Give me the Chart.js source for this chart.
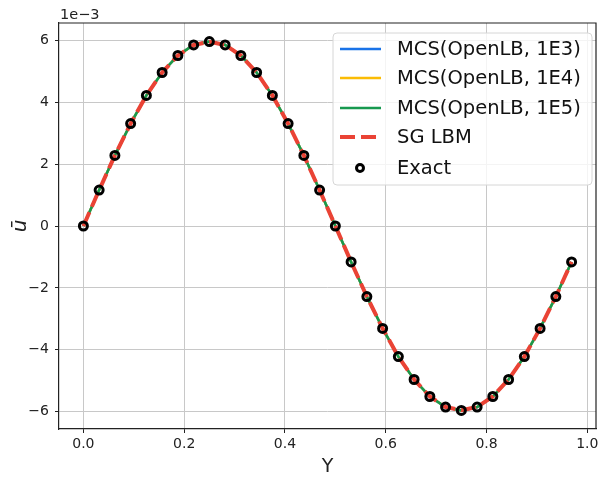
<!DOCTYPE html>
<html>
<head>
<meta charset="utf-8">
<script src="https://cdn.jsdelivr.net/npm/chart.js"></script>
<style>
  html, body { margin: 0; padding: 0; background: #fff; }
  #wrap { width: 603px; height: 478px; }
</style>
</head>
<body>
<div id="wrap"><canvas id="myChart" width="603" height="478"></canvas></div>
<script>
// channel position Y (one period sampled at 32 nodes)
const yPos = [0, 0.03125, 0.0625, 0.09375, 0.125, 0.15625, 0.1875, 0.21875,
              0.25, 0.28125, 0.3125, 0.34375, 0.375, 0.40625, 0.4375, 0.46875,
              0.5, 0.53125, 0.5625, 0.59375, 0.625, 0.65625, 0.6875, 0.71875,
              0.75, 0.78125, 0.8125, 0.84375, 0.875, 0.90625, 0.9375, 0.96875];

// mean velocity, in units of 1e-3
const mcs1e3 = [0, 1.16, 2.28, 3.31, 4.22, 4.96, 5.51, 5.86, 5.97, 5.86, 5.51, 4.96, 4.22, 3.31, 2.28, 1.16,
                0, -1.16, -2.28, -3.31, -4.22, -4.96, -5.51, -5.86, -5.97, -5.86, -5.51, -4.96, -4.22, -3.31, -2.28, -1.16];
const mcs1e4 = [0, 1.16, 2.28, 3.31, 4.22, 4.96, 5.51, 5.85, 5.96, 5.85, 5.51, 4.96, 4.22, 3.31, 2.28, 1.16,
                0, -1.16, -2.28, -3.31, -4.22, -4.96, -5.51, -5.85, -5.96, -5.85, -5.51, -4.96, -4.22, -3.31, -2.28, -1.16];
const mcs1e5 = [0, 1.16, 2.28, 3.31, 4.22, 4.96, 5.51, 5.85, 5.96, 5.85, 5.51, 4.96, 4.22, 3.31, 2.28, 1.16,
                0, -1.16, -2.28, -3.31, -4.22, -4.96, -5.51, -5.85, -5.96, -5.85, -5.51, -4.96, -4.22, -3.31, -2.28, -1.16];
const sgLbm  = [0, 1.16, 2.28, 3.31, 4.22, 4.96, 5.51, 5.85, 5.95, 5.85, 5.51, 4.96, 4.22, 3.31, 2.28, 1.16,
                0, -1.16, -2.28, -3.31, -4.22, -4.96, -5.51, -5.85, -5.95, -5.85, -5.51, -4.96, -4.22, -3.31, -2.28, -1.16];
const exact  = [0, 1.16, 2.28, 3.31, 4.22, 4.96, 5.51, 5.85, 5.96, 5.85, 5.51, 4.96, 4.22, 3.31, 2.28, 1.16,
                0, -1.16, -2.28, -3.31, -4.22, -4.96, -5.51, -5.85, -5.96, -5.85, -5.51, -4.96, -4.22, -3.31, -2.28, -1.16];

const xTicks = [0, 0.2, 0.4, 0.6, 0.8, 1.0];
const yTicks = [-6, -4, -2, 0, 2, 4, 6];

const FONT = "'DejaVu Sans', sans-serif";

function pts(ys) {
    return yPos.map((x, i) => ({ x: x, y: ys[i] }));
}
function fmt(v, digits) {
    const s = v.toFixed(digits);
    return v < 0 ? '\u2212' + s.slice(1) : s;
}

// top/right spines plus the framed legend
const framePlugin = {
    id: 'frame',
    afterDraw(chart) {
        const ctx = chart.ctx;
        const a = chart.chartArea;
        ctx.save();
        ctx.strokeStyle = '#222';
        ctx.lineWidth = 1.2;
        ctx.beginPath();
        ctx.moveTo(a.left, a.top);
        ctx.lineTo(a.right, a.top);
        ctx.lineTo(a.right, a.bottom);
        ctx.stroke();

        // offset text of the y axis
        ctx.fillStyle = '#222';
        ctx.font = '14.5px ' + FONT;
        ctx.textAlign = 'left';
        ctx.textBaseline = 'bottom';
        ctx.fillText('1e\u22123', a.left + 1, a.top - 1);

        // legend box
        const bx = 333, by = 33, bw = 259, bh = 152;
        ctx.beginPath();
        ctx.roundRect(bx, by, bw, bh, 4);
        ctx.fillStyle = 'rgba(255,255,255,0.8)';
        ctx.fill();
        ctx.strokeStyle = '#d6d6d6';
        ctx.lineWidth = 1;
        ctx.stroke();

        const rows = [49, 78, 108, 137, 168];
        ctx.font = '19.5px ' + FONT;
        ctx.textBaseline = 'middle';
        chart.data.datasets.forEach((ds, i) => {
            const y = rows[i];
            ctx.save();
            if (ds.showLine === false) {
                ctx.beginPath();
                ctx.arc(360, y, ds.pointRadius - 0.5, 0, Math.PI * 2);
                ctx.strokeStyle = ds.pointBorderColor;
                ctx.lineWidth = ds.pointBorderWidth;
                ctx.stroke();
            } else {
                ctx.beginPath();
                ctx.setLineDash(ds.borderDash || []);
                ctx.moveTo(340, y);
                ctx.lineTo(381, y);
                ctx.strokeStyle = ds.borderColor;
                ctx.lineWidth = ds.borderWidth;
                ctx.stroke();
            }
            ctx.restore();
            ctx.fillStyle = '#111';
            ctx.fillText(ds.label, 397, y + 1);
        });
        ctx.restore();
    }
};

const lineStyle = { showLine: true, pointRadius: 0, tension: 0, fill: false };

const data = {
    datasets: [
        Object.assign({ label: 'MCS(OpenLB, 1E3)', data: pts(mcs1e3), borderColor: '#1a73e8', borderWidth: 2.5, order: 4 }, lineStyle),
        Object.assign({ label: 'MCS(OpenLB, 1E4)', data: pts(mcs1e4), borderColor: '#fbbc04', borderWidth: 2.5, order: 3 }, lineStyle),
        Object.assign({ label: 'MCS(OpenLB, 1E5)', data: pts(mcs1e5), borderColor: '#17994f', borderWidth: 2.5, order: 2 }, lineStyle),
        Object.assign({ label: 'SG LBM', data: pts(sgLbm), borderColor: '#ea4335', borderWidth: 4, borderDash: [15, 6], order: 1 }, lineStyle),
        {
            label: 'Exact',
            data: pts(exact),
            showLine: false,
            pointRadius: 4,
            pointBorderWidth: 3,
            pointBorderColor: '#000',
            pointBackgroundColor: 'rgba(0,0,0,0)',
            order: 0
        }
    ]
};

const options = {
    responsive: false,
    animation: false,
    layout: { padding: { top: 23, right: 2, left: 0, bottom: 0 } },
    plugins: {
        legend: { display: false },
        tooltip: { enabled: false }
    },
    scales: {
        x: {
            type: 'linear',
            min: -0.0484,
            max: 1.0172,
            afterBuildTicks: (s) => { s.ticks = xTicks.map(v => ({ value: v })); },
            afterFit: (s) => { s.height = 49; },
            ticks: {
                callback: (v) => fmt(v, 1),
                color: '#222',
                font: { family: FONT, size: 14 },
                padding: 3,
                maxRotation: 0
            },
            grid: { color: '#c8c8c8', lineWidth: 1, tickColor: '#222', tickLength: 4 },
            border: { color: '#222', width: 1.2 },
            title: {
                display: true,
                text: 'Y',
                color: '#222',
                font: { family: FONT, size: 19 },
                padding: { top: 0, bottom: 0 }
            }
        },
        y: {
            type: 'linear',
            min: -6.56,
            max: 6.56,
            afterBuildTicks: (s) => { s.ticks = yTicks.map(v => ({ value: v })); },
            afterFit: (s) => { s.width = 59; },
            ticks: {
                callback: (v) => fmt(v, 0),
                color: '#222',
                font: { family: FONT, size: 14 },
                padding: 6
            },
            grid: { color: '#c8c8c8', lineWidth: 1, tickColor: '#222', tickLength: 4 },
            border: { color: '#222', width: 1.2 },
            title: {
                display: true,
                text: '\u016B',
                color: '#222',
                font: { family: FONT, size: 20, style: 'italic' },
                padding: { top: 9, bottom: 0 }
            }
        }
    }
};

new Chart(document.getElementById('myChart').getContext('2d'), {
    type: 'scatter',
    data: data,
    options: options,
    plugins: [framePlugin]
});
</script>
</body>
</html>
